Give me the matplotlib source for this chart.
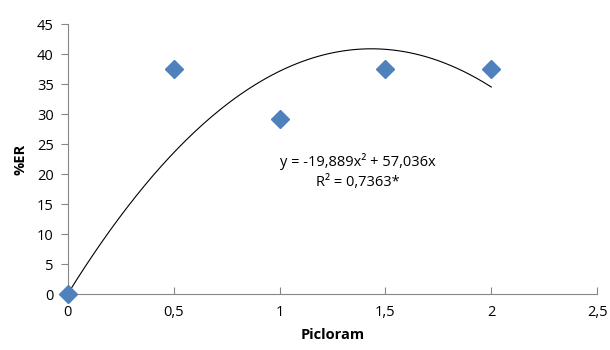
import numpy as np
import matplotlib
matplotlib.use("Agg")
import matplotlib.pyplot as plt
from matplotlib.ticker import FuncFormatter

# Data
picloram = [0, 0.5, 1, 1.5, 2]
er_pct = [0, 37.5, 29.2, 37.5, 37.5]

# Polynomial trendline coefficients (from the chart label)
a2, a1 = -19.889, 57.036
eq_text = "y = -19,889x² + 57,036x\nR² = 0,7363*"

plt.rcParams["font.family"] = ["Open Sans", "DejaVu Sans"]

fig = plt.figure(figsize=(6.1, 3.5), dpi=100)
ax = fig.add_axes([0.111, 0.16, 0.868, 0.771])

xs = np.linspace(0, 2, 200)
ax.plot(xs, a2 * xs**2 + a1 * xs, color="black", linewidth=0.8, zorder=2)
ax.plot(picloram, er_pct, linestyle="none", marker="D", markersize=9,
        color="#4F81BD", clip_on=False, zorder=3)

ax.text(1.37, 20.4, eq_text, ha="center", va="center", fontsize=10.5,
        linespacing=1.5)

ax.set_xlim(0, 2.5)
ax.set_ylim(0, 45)
ax.set_xticks(np.arange(0, 2.51, 0.5))
ax.set_yticks(np.arange(0, 46, 5))
ax.xaxis.set_major_formatter(FuncFormatter(lambda v, p: f"{v:g}".replace(".", ",")))

for s in ["top", "right"]:
    ax.spines[s].set_visible(False)
for s in ["left", "bottom"]:
    ax.spines[s].set_color("#868686")
    ax.spines[s].set_linewidth(0.8)

ax.tick_params(axis="x", direction="in", length=5, color="#868686",
               labelsize=10.5, pad=8)
ax.tick_params(axis="y", direction="out", length=5, color="#868686",
               labelsize=10.5, pad=5)

ax.set_xlabel("Picloram", fontsize=10.5, fontweight="bold", labelpad=6)
ax.set_ylabel("%ER", fontsize=10.5, fontweight="bold", labelpad=7)

fig.savefig("out.png", dpi=100)
